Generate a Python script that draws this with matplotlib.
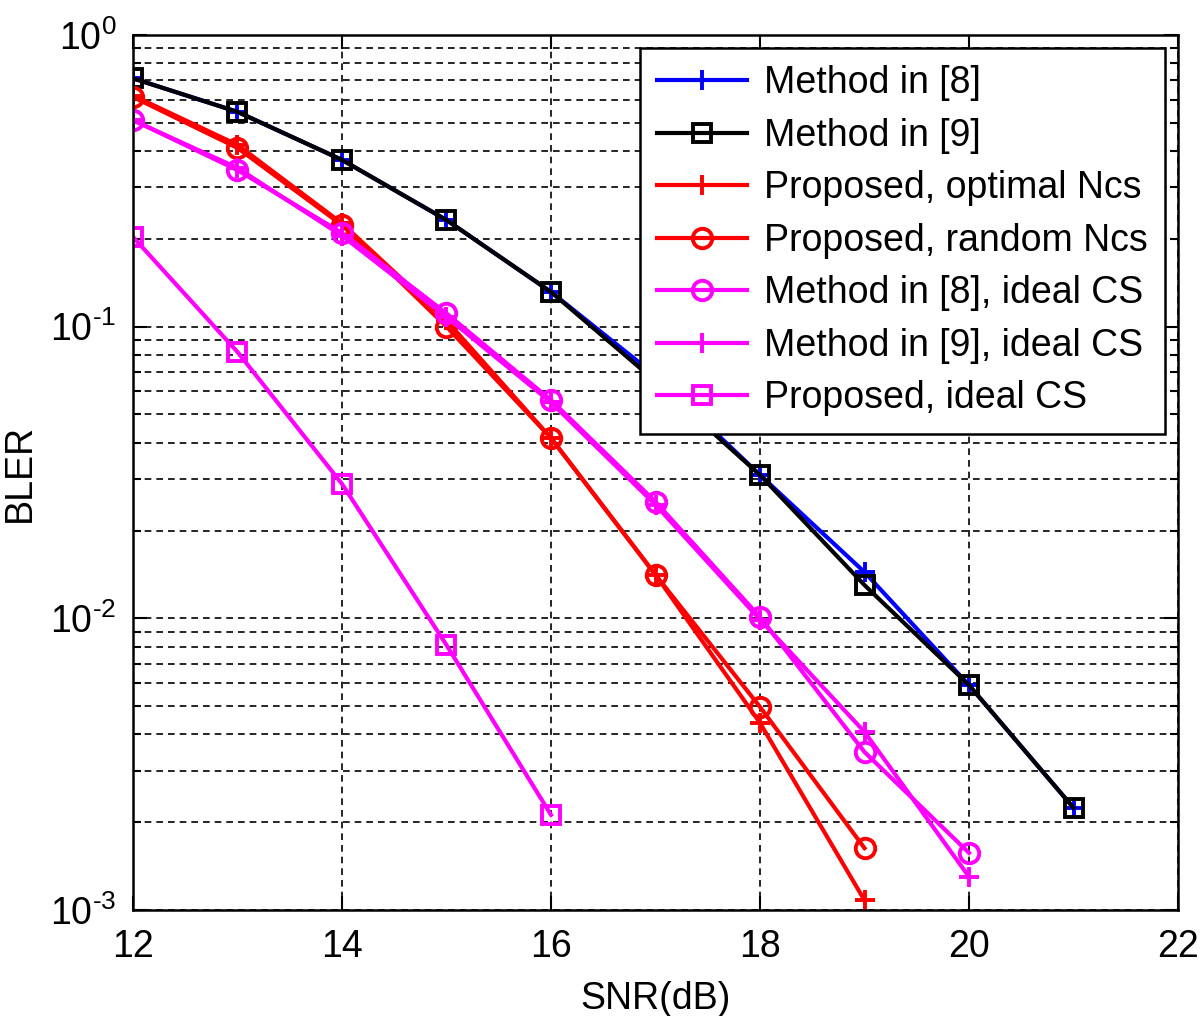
import matplotlib
matplotlib.use("Agg")
import matplotlib.pyplot as plt
import numpy as np
from matplotlib.ticker import LogLocator, NullFormatter, FixedLocator, FuncFormatter

# ============================================================
# Global style configuration
# ============================================================
plt.rcParams.update({
    "font.family": ["Liberation Sans", "DejaVu Sans"],
    "font.size": 27,
    "mathtext.fontset": "custom",
    "mathtext.rm": "Liberation Sans",
    "mathtext.default": "regular",
    "axes.linewidth": 1.8,
})

# ============================================================
# Data
# ============================================================
snr = [12, 13, 14, 15, 16, 17, 18, 19, 20, 21]
snr_19 = [12, 13, 14, 15, 16, 17, 18, 19]
snr_20 = [12, 13, 14, 15, 16, 17, 18, 19, 20]
snr_16 = [12, 13, 14, 15, 16]

bler_m8 = [0.71, 0.545, 0.373, 0.232, 0.1315, 0.068, 0.031, 0.0144, 0.0059, 0.00224]
bler_m9 = [0.71, 0.545, 0.373, 0.232, 0.1315, 0.065, 0.031, 0.013, 0.0059, 0.00224]
bler_opt = [0.62, 0.42, 0.226, 0.105, 0.0415, 0.0141, 0.00438, 0.00108]
bler_rand = [0.613, 0.41, 0.223, 0.1, 0.0415, 0.0141, 0.00497, 0.00163]
bler_m8_ideal = [0.511, 0.344, 0.2095, 0.111, 0.056, 0.0251, 0.0101, 0.00348, 0.00157]
bler_m9_ideal = [0.51, 0.35, 0.205, 0.108, 0.055, 0.0245, 0.0099, 0.00408, 0.0013]
bler_prop_ideal = [0.203, 0.0819, 0.0289, 0.0081, 0.00212]

labels = [
    'Method in [8]', 'Method in [9]', 'Proposed, optimal Ncs',
    'Proposed, random Ncs', 'Method in [8], ideal CS',
    'Method in [9], ideal CS', 'Proposed, ideal CS'
]

# ============================================================
# Figure
# ============================================================
fig = plt.figure(figsize=(12, 10.16), dpi=100)
ax = fig.add_axes([0.1108, 0.1043, 0.8709, 0.8613])

lw = 3.0
mew = 2.8
ax.plot(snr, bler_m8, color='blue', marker='+', ms=14, mew=mew, lw=lw, label=labels[0])
ax.plot(snr, bler_m9, color='black', marker='s', ms=13, mew=mew, mfc='none', lw=lw, label=labels[1])
ax.plot(snr_19, bler_opt, color='red', marker='+', ms=14, mew=mew, lw=lw, label=labels[2])
ax.plot(snr_19, bler_rand, color='red', marker='o', ms=14, mew=mew, mfc='none', lw=lw, label=labels[3])
ax.plot(snr_20, bler_m8_ideal, color='magenta', marker='o', ms=14, mew=mew, mfc='none', lw=lw, label=labels[4])
ax.plot(snr_20, bler_m9_ideal, color='magenta', marker='+', ms=14, mew=mew, lw=lw, label=labels[5])
ax.plot(snr_16, bler_prop_ideal, color='magenta', marker='s', ms=13, mew=mew, mfc='none', lw=lw, label=labels[6])

ax.set_yscale('log')
ax.set_xlim(12, 22)
ax.set_ylim(1e-3, 1)
ax.set_xticks([12, 14, 16, 18, 20, 22])
ax.yaxis.set_major_locator(FixedLocator([1e-3, 1e-2, 1e-1, 1]))
ax.yaxis.set_major_formatter(
    FuncFormatter(lambda v, _: r'$10^{\text{%d}}$' % int(round(np.log10(v))))
)
ax.yaxis.set_minor_locator(LogLocator(base=10, subs=np.arange(2, 10)))
ax.yaxis.set_minor_formatter(NullFormatter())

ax.tick_params(which='both', direction='in', top=True, right=True, width=1.5)
ax.tick_params(which='major', length=10)
ax.tick_params(which='minor', length=6)
ax.tick_params(axis='x', pad=14)
ax.tick_params(axis='y', pad=12)

grid_kw = dict(color='black', linestyle=(0, (4, 3)), linewidth=1.2)
ax.grid(True, which='major', axis='both', **grid_kw)
ax.grid(True, which='minor', axis='y', **grid_kw)

ax.set_xlabel('SNR(dB)', labelpad=11)
ax.set_ylabel('BLER')
ax.yaxis.set_label_coords(-0.091, 0.5)

leg = ax.legend(loc='upper right', fancybox=False, framealpha=1, edgecolor='black',
                handlelength=2.4, handletextpad=0.45, labelspacing=0.44,
                borderaxespad=0.35, borderpad=0.46)
leg.get_frame().set_linewidth(1.8)

plt.savefig('out.png', dpi=100)
